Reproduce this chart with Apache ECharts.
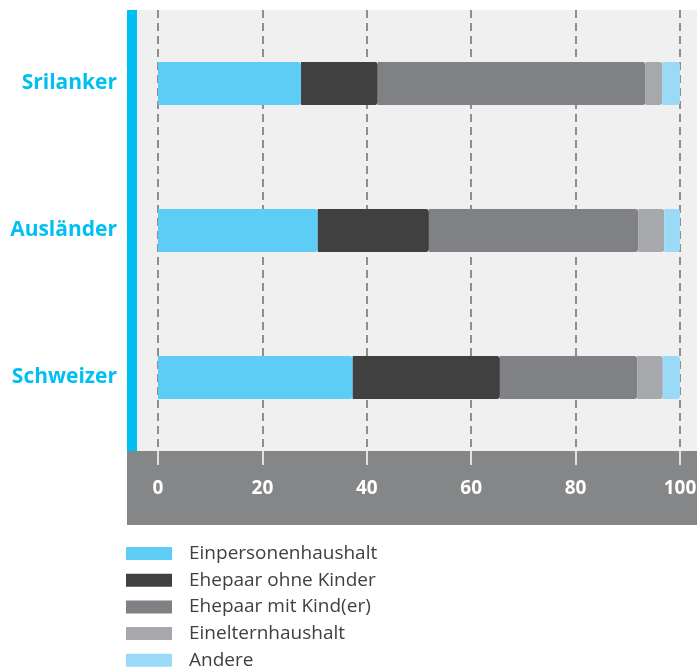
<!DOCTYPE html>
<html>
<head>
<meta charset="utf-8">
<script src="https://cdn.jsdelivr.net/npm/echarts@6/dist/echarts.min.js"></script>
<style>
  html, body { margin: 0; padding: 0; background: #fff; }
  #main { width: 697px; height: 668px; }
</style>
</head>
<body>
<div id="main"></div>
<script>
// Kategorien (von oben nach unten)
var categories = ['Srilanker', 'Ausländer', 'Schweizer'];
var seriesNames = ['Einpersonenhaushalt', 'Ehepaar ohne Kinder', 'Ehepaar mit Kind(er)', 'Einelternhaushalt', 'Andere'];
var seriesColors = ['#5ecdf5', '#404040', '#808184', '#a7a8ab', '#9bdaf7'];

// Anteile in %
var einpersonen = [27.4, 30.6, 37.3];
var ohneKinder = [14.7, 21.3, 28.2];
var mitKindern = [51.3, 40.1, 26.3];
var einEltern = [3.2, 5.0, 4.9];
var andere = [3.4, 3.0, 3.3];

var xTicks = [0, 20, 40, 60, 80, 100];

var seriesData = [einpersonen, ohneKinder, mitKindern, einEltern, andere];

var chart = echarts.init(document.getElementById('main'));

var option = {
  animation: false,
  graphic: [
    // heller Hintergrund der Zeichenfläche
    { type: 'rect', z: -10, silent: true, shape: { x: 137, y: 10, width: 560, height: 441 }, style: { fill: '#f0f0f0' } },
    // blauer Balken links
    { type: 'rect', z: -10, silent: true, shape: { x: 127, y: 10, width: 10, height: 441 }, style: { fill: '#00bff3' } },
    // dunkles Band unter der Achse
    { type: 'rect', z: -10, silent: true, shape: { x: 127, y: 451, width: 570, height: 74 }, style: { fill: '#858688' } }
  ],
  legend: {
    orient: 'vertical',
    left: 126,
    top: 544,
    height: 130,
    padding: 0,
    icon: 'rect',
    itemWidth: 46,
    itemHeight: 13,
    itemGap: 7.7,
    data: seriesNames,
    textStyle: {
      color: '#404040',
      fontSize: 19,
      lineHeight: 19,
      fontFamily: 'Open Sans',
      padding: [0, 0, 0, 12]
    }
  },
  grid: {
    left: 158,
    right: 17,
    top: 10,
    bottom: 217,
    containLabel: false,
    outerBoundsMode: 'none'
  },
  xAxis: {
    type: 'value',
    min: 0,
    max: 100,
    interval: 20,
    axisLine: { show: false },
    axisTick: {
      show: true,
      length: 14,
      lineStyle: { color: '#ffffff', width: 1.5 }
    },
    axisLabel: {
      color: '#ffffff',
      fontSize: 19,
      fontWeight: 'bold',
      fontFamily: 'Open Sans',
      margin: 28,
      formatter: function (v) { return xTicks.indexOf(v) >= 0 ? String(v) : ''; }
    },
    splitLine: {
      show: true,
      lineStyle: { color: '#6d6e70', width: 1.5, type: [8, 5] }
    }
  },
  yAxis: {
    type: 'category',
    inverse: true,
    data: categories,
    axisLine: { show: false },
    axisTick: { show: false },
    axisLabel: {
      color: '#00bff3',
      fontSize: 21,
      fontWeight: 'bold',
      fontFamily: 'Open Sans',
      margin: 41
    }
  },
  series: seriesNames.map(function (name, i) {
    return {
      name: name,
      type: 'bar',
      stack: 'total',
      barWidth: 43,
      data: seriesData[i],
      itemStyle: { color: seriesColors[i], borderRadius: [0, 3, 3, 0] }
    };
  })
};

chart.setOption(option);
</script>
</body>
</html>
